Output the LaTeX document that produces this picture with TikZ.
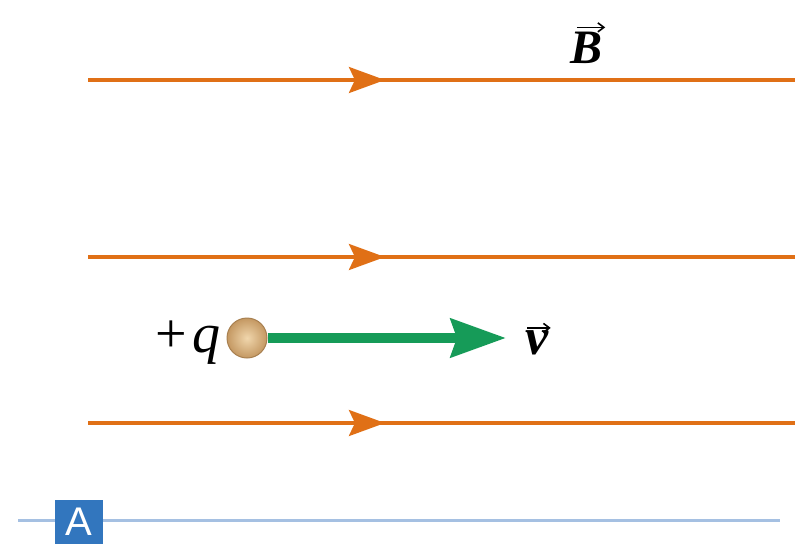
\documentclass[tikz,border=0pt]{standalone}
\usepackage{fontspec}
\setmainfont{Liberation Serif}
\newfontfamily\labelsans{Liberation Sans}
\usetikzlibrary{arrows.meta,decorations.markings}
\definecolor{fieldorange}{RGB}{224,112,22}
\definecolor{velgreen}{RGB}{22,155,88}
\definecolor{rulerblue}{RGB}{165,192,226}
\definecolor{tagblue}{RGB}{50,118,190}
\definecolor{ballin}{RGB}{240,214,172}
\definecolor{ballout}{RGB}{196,152,98}
\definecolor{ballrim}{RGB}{168,128,80}
\tikzset{
  fieldline/.style={draw=fieldorange, line width=3.2pt,
    postaction={decorate, decoration={markings,
      mark=at position 0.42 with {\arrow{Stealth[length=36pt,width=26pt,inset=6pt,fieldorange]}}}}},
  vecarrow/.style={draw=velgreen, line width=10pt,
    -{Stealth[length=55pt,width=38pt,inset=6pt,velgreen]}},
  lbl/.style={inner sep=0pt, font=\fontsize{48}{56}\selectfont},
  overarrow/.style={draw=black, line width=1.6pt, -{Straight Barb[length=6pt,width=9pt]}},
}
\begin{document}
\begin{tikzpicture}[x=1pt,y=-1pt]
\useasboundingbox (0,0) rectangle (795,544);
% field lines
\coordinate (l1a) at (88,80);  \coordinate (l1b) at (795,80);
\coordinate (l2a) at (88,257); \coordinate (l2b) at (795,257);
\coordinate (l3a) at (88,423); \coordinate (l3b) at (795,423);
\path[fieldline] (l1a) -- (l1b);
\path[fieldline] (l2a) -- (l2b);
\path[fieldline] (l3a) -- (l3b);
\node[lbl, anchor=base] (B) at (587,63) {\bfseries\itshape B};
\draw[overarrow] ([shift={(6,-4)}]B.north west) -- ([shift={(2,-4)}]B.north east);
% charge
\node[circle, minimum size=40pt, inner sep=0pt, draw=ballrim, line width=1pt,
  inner color=ballin, outer color=ballout] (q) at (247,338) {};
\coordinate (vend) at (506,338);
\draw[vecarrow] (q.east) -- (vend);
\node[lbl, anchor=base east, font=\fontsize{56}{64}\selectfont] (ql) at (221,352) {+\kern6pt\itshape q};
\node[lbl, anchor=base, font=\fontsize{52}{60}\selectfont] (v) at (537,354) {\bfseries\itshape v};
\draw[overarrow] ([shift={(2,-2)}]v.north west) -- ([shift={(2,-2)}]v.north east);
% bottom ruler
\coordinate (ra) at (18,520); \coordinate (rb) at (780,520);
\draw[rulerblue, line width=3pt] (ra) -- (rb);
\node[fill=tagblue, text=white, minimum width=48pt, minimum height=44pt, inner sep=0pt,
  font=\labelsans\fontsize{40}{42}\selectfont, anchor=north west] (A) at (55,500) {A};
\end{tikzpicture}
\end{document}
